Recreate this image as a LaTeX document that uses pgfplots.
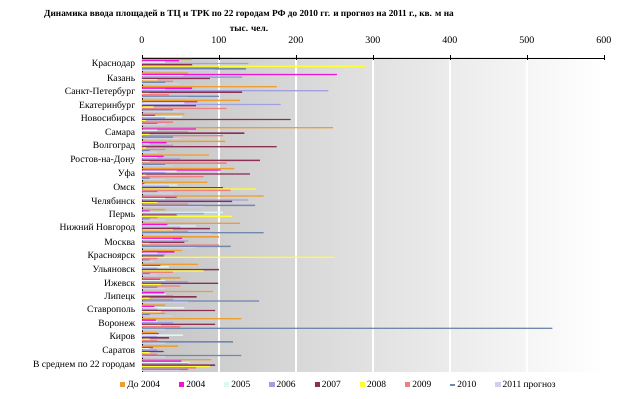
\documentclass[border=0pt]{standalone}
\usepackage{pgfplots}
\pgfplotsset{compat=1.18}
\usepackage{pgfplotstable}
\usepackage{fontspec}
\setmainfont{Liberation Serif}
\definecolor{c1}{HTML}{EC9E30}
\definecolor{c2}{HTML}{F010D8}
\definecolor{c3}{HTML}{DDF6F6}
\definecolor{c4}{HTML}{A0A0E0}
\definecolor{c5}{HTML}{8B2F55}
\definecolor{c6}{HTML}{FFFF33}
\definecolor{c7}{HTML}{EE8080}
\definecolor{c8}{HTML}{7088B0}
\definecolor{c9}{HTML}{D0D0EC}
\definecolor{bgL}{HTML}{C4C4C4}
\pgfplotstableread{
s1 s2 s3 s4 s5 s6 s7 s8 s9
65 48 30 138 65 290 100 135 95
60 253 54 130 88 20 40 30 50
175 65 30 242 130 10 35 100 60
127 72 55 180 70 15 110 40 50
55 17 52 30 193 5 40 20 30
248 70 20 60 133 10 105 40 50
108 32 10 40 175 5 30 10 20
87 28 20 50 153 10 110 30 40
120 102 45 30 140 5 80 10 30
85 3 46 35 105 148 115 20 40
158 45 30 138 117 20 60 147 80
30 10 105 80 45 117 20 10 30
127 33 70 50 88 40 60 158 90
100 52 40 60 55 10 100 115 70
52 42 20 30 28 250 20 10 15
73 24 35 20 100 80 40 10 20
50 24 30 60 99 25 50 20 30
92 29 31 40 71 10 40 152 60
30 16 55 20 95 25 30 10 40
129 18 20 40 95 25 50 533 30
20 22 53 20 35 10 20 118 30
47 14 10 20 28 10 20 129 30
90 51 62 60 95 88 70 60 50
}\data
\pgfplotsset{sq/.style={legend image code/.code={\fill[##1] (0pt,-2.6pt) rectangle (5.2pt,2.6pt);}},
  ln/.style={legend image code/.code={\fill[##1] (0pt,-0.9pt) rectangle (5.2pt,0.9pt);}}}
\begin{document}
\begin{tikzpicture}
\useasboundingbox (-142pt,-27pt) rectangle (491pt,372pt);
\begin{axis}[
  scale only axis, width=462pt, height=314pt,
  at={(0pt,0pt)}, anchor=south west,
  xmin=0, xmax=600, ymin=-0.5, ymax=22.5,
  axis x line*=top, axis y line*=left,
  axis line style={black, line width=0.8pt},
  axis background/.style={left color=bgL, right color=white},
  xtick={0,100,...,600},
  x tick label style={font=\fontsize{10}{12}\selectfont, yshift=9pt},
  major x tick style={black, line width=0.6pt},
  x tick style={/pgfplots/major tick length=5pt},
  xtick align=center,
  xmajorgrids, major x grid style={white, line width=1.2pt},
  ytick={0,...,22},
  yticklabels={В среднем по 22 городам, Саратов, Киров, Воронеж, Ставрополь, Липецк, Ижевск, Ульяновск, Красноярск, Москва, Нижний Новгород, Пермь, Челябинск, Омск, Уфа, Ростов-на-Дону, Волгоград, Самара, Новосибирск, Екатеринбург, Санкт-Петербург, Казань, Краснодар},
  y tick label style={font=\fontsize{9.6}{11}\selectfont, xshift=1pt},
  major y tick style={draw=none},
  extra y ticks={-0.5,0.5,...,22.5},
  extra y tick labels={},
  extra y tick style={major tick length=4pt, tick align=outside, major y tick style={black, line width=0.6pt}, ymajorgrids=false},
  /pgf/number format/assume math mode=true,
  xbar=0pt, bar width=1.35pt,
  legend columns=-1,
  legend style={draw=none, fill=none, font=\fontsize{9.5}{11}\selectfont,
    at={(axis description cs:-0.054,-0.041)}, anchor=west,
    /tikz/every even column/.append style={column sep=17pt}},
]
\addplot[fill=c1, draw=none, bar shift=5.4pt, sq] table[y expr=22-\coordindex, x=s1]{\data};
\addplot[fill=c2, draw=none, bar shift=4.05pt, sq] table[y expr=22-\coordindex, x=s2]{\data};
\addplot[fill=c3, draw=none, bar shift=2.7pt, sq] table[y expr=22-\coordindex, x=s3]{\data};
\addplot[fill=c4, draw=none, bar shift=1.35pt, sq] table[y expr=22-\coordindex, x=s4]{\data};
\addplot[fill=c5, draw=none, bar shift=0pt, sq] table[y expr=22-\coordindex, x=s5]{\data};
\addplot[fill=c6, draw=none, bar shift=-1.35pt, sq] table[y expr=22-\coordindex, x=s6]{\data};
\addplot[fill=c7, draw=none, bar shift=-2.7pt, sq] table[y expr=22-\coordindex, x=s7]{\data};
\addplot[fill=c8, draw=none, bar shift=-4.05pt, ln] table[y expr=22-\coordindex, x=s8]{\data};
\addplot[fill=c9, draw=none, bar shift=-5.4pt, sq] table[y expr=22-\coordindex, x=s9]{\data};
\legend{До 2004, 2004, 2005, 2006, 2007, 2008, 2009, 2010, 2011 прогноз}
\end{axis}
\node[anchor=north, align=center, font=\bfseries\fontsize{9.3}{15}\selectfont] at (107pt,365pt)
  {Динамика ввода площадей в ТЦ и ТРК по 22 городам РФ до 2010 гг. и прогноз на 2011 г., кв. м на\\ тыс. чел.};
\end{tikzpicture}
\end{document}
